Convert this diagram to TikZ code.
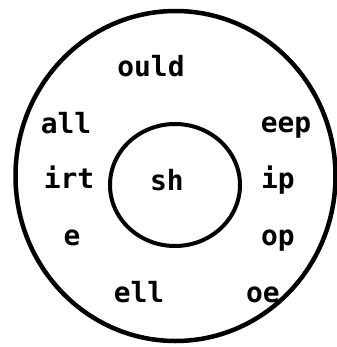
\documentclass[tikz,border=0pt]{standalone}
\usepackage{fontspec}
\usetikzlibrary{shapes.geometric}
\newfontfamily\lblfont{DejaVu Sans Mono}
\begin{document}
\begin{tikzpicture}[x=1bp,y=-1bp,
  ring/.style={draw=black,line width=4.5bp},
  lbl/.style={anchor=base,inner sep=0pt,font=\lblfont\bfseries\fontsize{28}{32}\selectfont}]
\useasboundingbox (0,0) rectangle (337,347);
\node[ring,ellipse,minimum width=320bp,minimum height=330bp,inner sep=0pt] (outer) at (175.5,176) {};
\node[ring,line width=4bp,ellipse,minimum width=130bp,minimum height=122bp,inner sep=0pt] (inner) at (175,185) {};
\node[lbl] (ould) at (151,76) {ould};
\node[lbl] (all) at (66,133) {all};
\node[lbl] (eep) at (286,132) {eep};
\node[lbl] (irt) at (69,188) {irt};
\node[lbl] (sh) at (167,190) {sh};
\node[lbl] (ip) at (278,188) {ip};
\node[lbl] (e) at (72,245) {e};
\node[lbl] (op) at (278,245) {op};
\node[lbl] (ell) at (139,302) {ell};
\node[lbl] (oe) at (263,302) {oe};
\end{tikzpicture}
\end{document}
